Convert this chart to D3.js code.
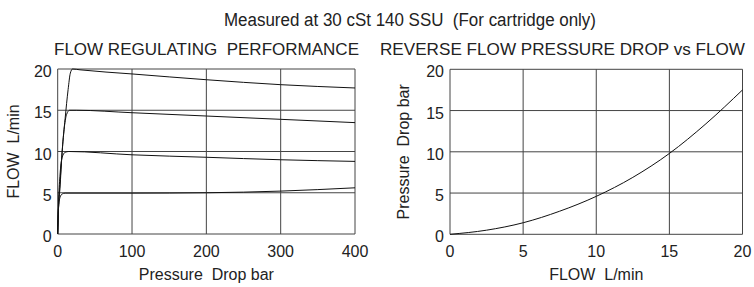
<!DOCTYPE html>
<html>
<head>
<meta charset="utf-8">
<script src="https://cdn.jsdelivr.net/npm/d3@7"></script>
<style>
  body { margin: 0; background: #fff; }
  svg { display: block; font-family: "Liberation Sans", Arial, sans-serif; }
  text { white-space: pre; }
</style>
</head>
<body>
<div id="chart"></div>
<script>
// ----------------------------
// Data
// ----------------------------

// left chart: flow regulating performance (pressure drop bar, flow L/min)
const curve20 = [[0, 0], [1, 3], [3, 5.5], [6, 10], [10, 14], [14, 17.5], [17, 19.5], [20, 20], [30, 19.9], [100, 19.4], [200, 18.7], [300, 18.1], [400, 17.7]];
const curve15 = [[0, 0], [1, 3], [3, 6], [6, 10], [9, 13], [12, 14.5], [16, 15], [25, 15], [100, 14.7], [200, 14.3], [300, 13.9], [400, 13.5]];
const curve10 = [[0, 0], [1, 3.5], [3, 7], [6, 9.3], [10, 9.9], [15, 10], [100, 9.6], [200, 9.3], [300, 9.0], [400, 8.8]];
const curve5 = [[0, 0], [1, 3], [3, 4.4], [6, 4.85], [10, 4.95], [100, 4.95], [200, 5.0], [300, 5.2], [400, 5.6]];
const pressureTicks = [0, 100, 200, 300, 400];
const flowTicks = [0, 5, 10, 15, 20];

// right chart: reverse flow pressure drop vs flow
const reverseFlow = [0, 2.5, 5, 7.5, 10, 12.5, 15, 17.5, 20];
const reversePressure = [0, 0.5, 1.4, 2.8, 4.6, 6.9, 9.8, 13.4, 17.5];

const title = "Measured at 30 cSt 140 SSU  (For cartridge only)";
const leftTitle = "FLOW REGULATING  PERFORMANCE";
const rightTitle = "REVERSE FLOW PRESSURE DROP vs FLOW";

const width = 754;
const height = 287;

const svg = d3.create("svg")
    .attr("width", width)
    .attr("height", height)
    .attr("viewBox", [0, 0, width, height]);

// Titles
svg.append("text")
    .attr("x", 224).attr("y", 26)
    .attr("textLength", 372).attr("lengthAdjust", "spacingAndGlyphs")
    .style("font-size", "18px").style("fill", "#222")
    .text(title);

svg.append("text")
    .attr("x", 54).attr("y", 55)
    .attr("textLength", 305).attr("lengthAdjust", "spacingAndGlyphs")
    .style("font-size", "17px").style("fill", "#222")
    .text(leftTitle);

svg.append("text")
    .attr("x", 380).attr("y", 55)
    .attr("textLength", 365).attr("lengthAdjust", "spacingAndGlyphs")
    .style("font-size", "17px").style("fill", "#222")
    .text(rightTitle);

// ----------------------------
// Panel drawing
// ----------------------------

function drawPanel(x, y, xTicks, yTicks, xLabel, yLabel, yLabelX) {
    const g = svg.append("g");
    const [x0, x1] = x.range();
    const [y0, y1] = y.range();

    // grid lines
    g.append("g")
        .selectAll("line")
        .data(xTicks)
        .join("line")
            .attr("x1", d => x(d)).attr("x2", d => x(d))
            .attr("y1", y0).attr("y2", y1)
            .attr("stroke", "#444").attr("stroke-width", 1);

    g.append("g")
        .selectAll("line")
        .data(yTicks)
        .join("line")
            .attr("x1", x0).attr("x2", x1)
            .attr("y1", d => y(d)).attr("y2", d => y(d))
            .attr("stroke", "#444").attr("stroke-width", 1);

    // tick labels
    g.append("g")
        .selectAll("text")
        .data(xTicks)
        .join("text")
            .attr("x", d => x(d)).attr("y", y0 + 23)
            .attr("text-anchor", "middle")
            .style("font-size", "16px").style("fill", "#222")
            .text(d => d);

    g.append("g")
        .selectAll("text")
        .data(yTicks)
        .join("text")
            .attr("x", x0 - 6).attr("y", d => y(d) + 8)
            .attr("text-anchor", "end")
            .style("font-size", "16px").style("fill", "#222")
            .text(d => d);

    // axis titles
    g.append("text")
        .attr("x", (x0 + x1) / 2).attr("y", y0 + 46)
        .attr("text-anchor", "middle")
        .style("font-size", "16px").style("fill", "#222")
        .text(xLabel);

    g.append("text")
        .attr("transform", `translate(${yLabelX},${(y0 + y1) / 2}) rotate(-90)`)
        .attr("text-anchor", "middle")
        .style("font-size", "16px").style("fill", "#222")
        .text(yLabel);

    return g;
}

// Left chart
const xL = d3.scaleLinear().domain([0, 400]).range([57.7, 355]);
const yL = d3.scaleLinear().domain([0, 20]).range([234, 69]);
const left = drawPanel(xL, yL, pressureTicks, flowTicks, "Pressure  Drop bar", "FLOW  L/min", 19);

const lineL = d3.line()
    .x(d => xL(d[0]))
    .y(d => yL(d[1]))
    .curve(d3.curveMonotoneX);

left.append("g")
    .selectAll("path")
    .data([curve20, curve15, curve10, curve5])
    .join("path")
        .attr("d", lineL)
        .attr("fill", "none")
        .attr("stroke", "#111")
        .attr("stroke-width", 1);

// Right chart
const xR = d3.scaleLinear().domain([0, 20]).range([450, 742.5]);
const yR = d3.scaleLinear().domain([0, 20]).range([234.3, 69.3]);
const right = drawPanel(xR, yR, flowTicks, flowTicks, "FLOW  L/min", "Pressure  Drop bar", 409);

const lineR = d3.line()
    .x((d, i) => xR(reverseFlow[i]))
    .y(d => yR(d))
    .curve(d3.curveMonotoneX);

right.append("path")
    .datum(reversePressure)
    .attr("d", lineR)
    .attr("fill", "none")
    .attr("stroke", "#111")
    .attr("stroke-width", 1);

document.getElementById('chart').appendChild(svg.node());
</script>
</body>
</html>
